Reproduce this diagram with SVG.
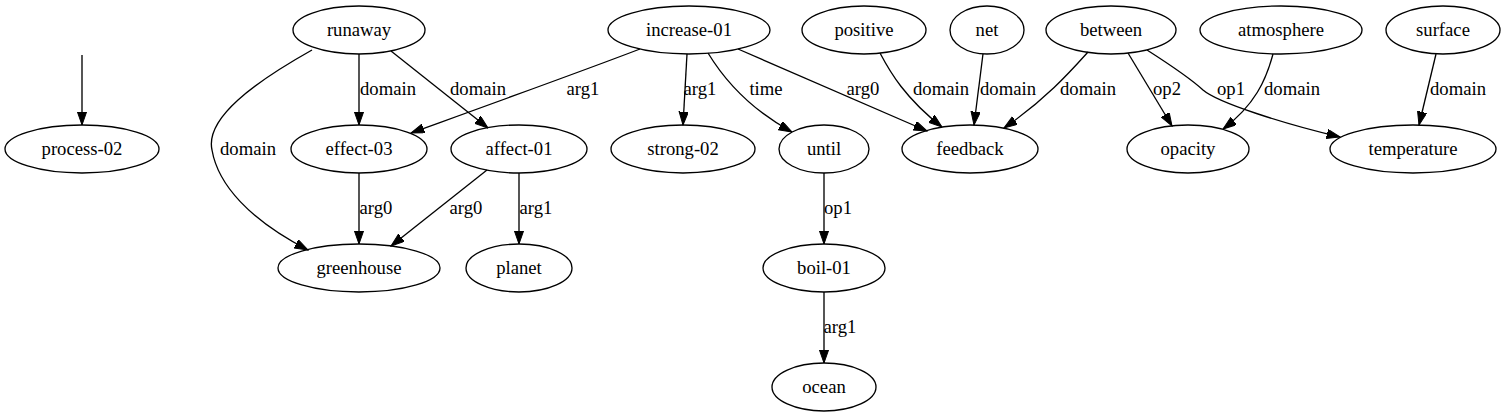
<svg xmlns="http://www.w3.org/2000/svg" width="1505" height="418" viewBox="0 0 1505 418">
<style>
  .node ellipse { fill: none; stroke: #000; stroke-width: 1.33; }
  text { font-family: "Liberation Serif", "Times New Roman", serif; font-size: 18.67px; fill: #000; text-anchor: middle; }
  .edges path { fill: none; stroke: #000; stroke-width: 1.33; marker-end: url(#arr); }
</style>
<defs>
  <marker id="arr" markerUnits="userSpaceOnUse" markerWidth="14" markerHeight="10" refX="13.3" refY="4.67" orient="auto">
    <path d="M0,0 L13.3,4.67 L0,9.33 z" fill="#000" stroke="#000" stroke-width="1"/>
  </marker>
</defs>
<rect x="0" y="0" width="1505" height="418" fill="#fff"/>

<g id="edges" class="edges">
  <path d="M82,55 L82,125"/>
  <path d="M312,50 C255,82 205,118 212,150 C218,185 250,220 308,250"/>
  <path d="M359,54 L359,125"/>
  <path d="M391,51 L488,128"/>
  <path d="M640,49 C580,72 480,108 411,133"/>
  <path d="M687,54 L683,125"/>
  <path d="M708,53 C722,76 748,108 792,132"/>
  <path d="M738,49 L927,131"/>
  <path d="M880,53 C890,72 905,98 942,127"/>
  <path d="M983,54 L974,125"/>
  <path d="M1088,52 C1070,72 1045,100 1004,128"/>
  <path d="M1128,53 L1172,126"/>
  <path d="M1147,50 C1172,66 1190,78 1203,90 C1218,103 1285,124 1340,137"/>
  <path d="M1273,54 C1266,80 1255,105 1223,129"/>
  <path d="M1436,54 L1419,125"/>
  <path d="M359,173 L359,244"/>
  <path d="M487,170 L391,246"/>
  <path d="M519,173 L519,244"/>
  <path d="M824,173 L824,244"/>
  <path d="M824,292 L824,363"/>
  <text x="248" y="155">domain</text>
  <text x="388" y="95">domain</text>
  <text x="478" y="95">domain</text>
  <text x="583" y="95">arg1</text>
  <text x="700" y="95">arg1</text>
  <text x="766" y="95">time</text>
  <text x="863" y="95">arg0</text>
  <text x="941" y="95">domain</text>
  <text x="1008" y="95">domain</text>
  <text x="1088" y="95">domain</text>
  <text x="1167" y="95">op2</text>
  <text x="1231" y="95">op1</text>
  <text x="1292" y="95">domain</text>
  <text x="1458" y="95">domain</text>
  <text x="376" y="214">arg0</text>
  <text x="466" y="214">arg0</text>
  <text x="536" y="214">arg1</text>
  <text x="838" y="214">op1</text>
  <text x="840" y="333">arg1</text>
</g>

<g id="process-02" class="node"><ellipse cx="82" cy="149" rx="77" ry="24"/><text x="82" y="155">process-02</text></g>
<g id="runaway" class="node"><ellipse cx="359" cy="30" rx="66" ry="24"/><text x="359" y="36">runaway</text></g>
<g id="effect-03" class="node"><ellipse cx="359" cy="149" rx="68" ry="24"/><text x="359" y="155">effect-03</text></g>
<g id="affect-01" class="node"><ellipse cx="519" cy="149" rx="68" ry="24"/><text x="519" y="155">affect-01</text></g>
<g id="greenhouse" class="node"><ellipse cx="359" cy="268" rx="81" ry="24"/><text x="359" y="274">greenhouse</text></g>
<g id="planet" class="node"><ellipse cx="519" cy="268" rx="53" ry="24"/><text x="519" y="274">planet</text></g>
<g id="increase-01" class="node"><ellipse cx="689" cy="30" rx="81" ry="24"/><text x="689" y="36">increase-01</text></g>
<g id="strong-02" class="node"><ellipse cx="683" cy="149" rx="72" ry="24"/><text x="683" y="155">strong-02</text></g>
<g id="until" class="node"><ellipse cx="824" cy="149" rx="45" ry="24"/><text x="824" y="155">until</text></g>
<g id="boil-01" class="node"><ellipse cx="824" cy="268" rx="61" ry="24"/><text x="824" y="274">boil-01</text></g>
<g id="ocean" class="node"><ellipse cx="824" cy="387" rx="52" ry="24"/><text x="824" y="393">ocean</text></g>
<g id="positive" class="node"><ellipse cx="864" cy="30" rx="62" ry="24"/><text x="864" y="36">positive</text></g>
<g id="net" class="node"><ellipse cx="987" cy="30" rx="37" ry="24"/><text x="987" y="36">net</text></g>
<g id="feedback" class="node"><ellipse cx="970" cy="149" rx="68" ry="24"/><text x="970" y="155">feedback</text></g>
<g id="between" class="node"><ellipse cx="1111" cy="30" rx="65" ry="24"/><text x="1111" y="36">between</text></g>
<g id="atmosphere" class="node"><ellipse cx="1281" cy="30" rx="81" ry="24"/><text x="1281" y="36">atmosphere</text></g>
<g id="surface" class="node"><ellipse cx="1443" cy="30" rx="57" ry="24"/><text x="1443" y="36">surface</text></g>
<g id="opacity" class="node"><ellipse cx="1188" cy="149" rx="61" ry="24"/><text x="1188" y="155">opacity</text></g>
<g id="temperature" class="node"><ellipse cx="1413" cy="149" rx="83" ry="24"/><text x="1413" y="155">temperature</text></g>
</svg>
